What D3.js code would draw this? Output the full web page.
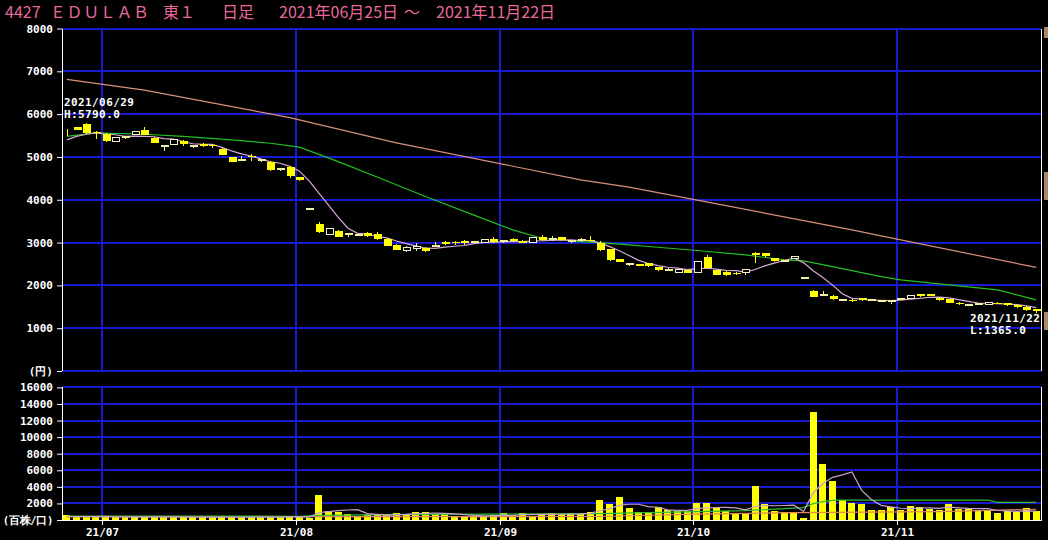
<!DOCTYPE html>
<html><head><meta charset="utf-8">
<script src="https://cdn.jsdelivr.net/npm/d3@7"></script>
<style>html,body{margin:0;padding:0;background:#000;}svg{display:block}</style>
</head><body>
<svg id="c" width="1048" height="540"></svg>
<script>
// ---- data ----
const monthLabels = ["21/07","21/08","21/09","21/10","21/11"];
const monthStartIdx = [4,24,45,65,86];
const priceTicks = [0,1000,2000,3000,4000,5000,6000,7000,8000];
const volTicks = [0,2000,4000,6000,8000,10000,12000,14000,16000];

const opens = [5570,5690,5760,5580,5540,5360,5460,5520,5620,5450,5250,5280,5370,5270,5300,5290,5190,5010,4930,5030,4930,4890,4730,4760,4520,
3780,3440,3200,3280,3200,3180,3220,3200,3090,2950,2810,2870,2880,2930,3020,3020,3040,3000,3000,3080,
3030,3080,3040,2990,3120,3080,3130,3030,3060,3070,2990,2850,2610,2500,2500,2520,2430,2360,2310,2360,
2300,2660,2360,2320,2300,2300,2760,2750,2630,2570,2620,2170,1880,1780,1760,1670,1670,1700,1660,1650,1650,
1670,1700,1800,1800,1710,1680,1600,1550,1570,1560,1600,1580,1550,1500,1440];
const highs = [5650,5700,5790,5610,5560,5470,5500,5610,5700,5460,5250,5410,5400,5290,5320,5300,5200,5010,5030,5080,4960,4900,4750,4780,4530,
3780,3470,3340,3300,3230,3200,3240,3240,3100,2960,2910,3000,2900,3020,3030,3030,3050,3040,3070,3120,
3050,3110,3050,3130,3170,3160,3130,3050,3110,3150,3040,2860,2620,2530,2510,2530,2440,2400,2390,2370,
2560,2700,2370,2330,2310,2390,2770,2760,2640,2600,2680,2170,1900,1870,1770,1690,1690,1710,1680,1670,1650,
1700,1780,1810,1810,1720,1690,1610,1570,1590,1610,1610,1590,1560,1510,1450];
const lows = [5480,5630,5540,5430,5360,5340,5430,5510,5510,5320,5150,5270,5260,5220,5240,5200,5040,4890,4920,4900,4890,4660,4660,4510,4440,
3780,3220,3190,3120,3130,3160,3140,3070,2920,2820,2770,2810,2780,2910,2940,2950,2950,2990,2990,3000,
2990,3020,2980,2980,3040,3040,3040,3000,3010,3010,2800,2580,2540,2460,2450,2440,2340,2330,2300,2290,
2290,2390,2240,2230,2250,2250,2530,2660,2550,2550,2610,2170,1730,1770,1670,1640,1620,1630,1640,1620,1560,
1660,1690,1740,1750,1640,1590,1550,1530,1550,1550,1560,1520,1480,1410,1365];
const closes = [5550,5640,5560,5560,5370,5460,5450,5600,5520,5330,5240,5400,5310,5260,5260,5250,5040,4890,4920,5010,4920,4690,4720,4560,4450,
3780,3250,3330,3130,3190,3180,3160,3080,2930,2830,2880,2900,2800,2920,2970,2980,2990,3010,3060,3010,
3020,3030,2990,3120,3050,3070,3050,3020,3050,3030,2820,2600,2550,2490,2460,2460,2350,2360,2380,2300,
2560,2400,2250,2250,2270,2380,2700,2680,2560,2580,2670,2170,1740,1770,1680,1660,1630,1650,1660,1640,1640,
1680,1770,1760,1760,1650,1600,1570,1550,1570,1600,1570,1530,1490,1420,1400];
const volumes = [560,400,420,380,400,360,340,380,420,380,350,340,360,330,320,340,380,360,340,330,340,380,380,400,360,
250,3020,1050,1000,720,480,600,560,600,880,700,970,930,720,680,480,480,400,480,600,
800,560,800,520,680,800,680,800,720,970,2410,1930,2780,1410,970,1000,1530,1210,1050,1050,
2010,2010,1410,1130,800,720,4100,1890,1100,930,930,290,13070,6760,4710,2410,2090,1930,1210,1210,1530,
1210,1690,1610,1290,1210,1930,1290,1290,1130,1210,800,1050,1010,1410,1100];

// moving averages that start before the visible window: values read at the first days
const ma5PriceHead = [5400,5480,5530,5560];
const ma5VolHead = [420,420,420,420];
// 25-day and 75-day averages: [day index, value]
const ma25Price = [[0,5480],[3,5560],[8,5530],[12,5480],[17,5400],[21,5320],[24,5230],[28,4890],[32,4530],[37,4075],[42,3640],[46,3296],[49,3100],[53,3024],[55,3000],[58,2947],[60,2908],[65,2814],[70,2713],[74,2596],[76,2573],[79,2440],[84,2206],[86,2128],[91,2011],[96,1894],[100,1661]];
const ma75Price = [[0,6810],[8,6560],[23,5920],[34,5330],[53,4465],[58,4295],[81,3298],[84,3158],[100,2420]];
const ma25Vol = [[0,480],[24,450],[26,560],[35,680],[45,720],[55,780],[60,880],[65,1000],[70,1130],[75,1430],[76,1500],[77,1980],[78,2220],[79,2370],[80,2410],[95,2410],[96,2130],[100,2130]];
const ma75Vol = [[0,380],[30,400],[55,420],[65,700],[75,880],[90,1000],[100,1300]];

// ---- drawing ----
const W = 1048, H = 540;
const svg = d3.select("#c");
svg.append("rect").attr("width",W).attr("height",H).attr("fill","#000");
const n = closes.length;
const L = 62, R = 1041;
const x = d3.scaleBand().domain(d3.range(n)).range([L,R]).paddingInner(0.28).paddingOuter(0.14);
const cx = i => x(i) + x.bandwidth()/2;
const yP = d3.scaleLinear().domain([0,8000]).range([371,28.5]);
const yV = d3.scaleLinear().domain([0,16000]).range([520,387.4]);
const GRID = "#1a1ad0";
const mono = "'DejaVu Sans Mono', 'Liberation Mono', monospace";

const g = svg.append("g").attr("shape-rendering","crispEdges");
g.selectAll("line.hp").data(priceTicks).join("line").attr("class","hp")
  .attr("x1",L).attr("x2",R).attr("y1",d=>Math.round(yP(d))).attr("y2",d=>Math.round(yP(d)))
  .attr("stroke",GRID).attr("stroke-width",2);
g.selectAll("line.hv").data(volTicks.filter(d=>d>0)).join("line").attr("class","hv")
  .attr("x1",L).attr("x2",R).attr("y1",d=>Math.round(yV(d))).attr("y2",d=>Math.round(yV(d)))
  .attr("stroke",GRID).attr("stroke-width",2);
monthStartIdx.forEach(i=>{
  const xx = Math.round(x(i));
  g.append("line").attr("x1",xx).attr("x2",xx).attr("y1",yP(8000)).attr("y2",yP(0)).attr("stroke",GRID).attr("stroke-width",2);
  g.append("line").attr("x1",xx).attr("x2",xx).attr("y1",yV(16000)).attr("y2",yV(0)).attr("stroke",GRID).attr("stroke-width",2);
});

function styleAxis(sel){
  sel.select(".domain").remove();
  sel.selectAll(".tick line").attr("stroke","#fff");
  sel.selectAll(".tick text").attr("fill","#fff").attr("font-family",mono).attr("font-size","11px").attr("font-weight","bold");
}
svg.append("g").attr("transform",`translate(${L},0)`)
  .call(d3.axisLeft(yP).tickValues(priceTicks).tickSize(5).tickPadding(4).tickFormat(d=>d===0?"(円)":d))
  .call(styleAxis);
const va = svg.append("g").attr("transform",`translate(${L},0)`)
  .call(d3.axisLeft(yV).tickValues(volTicks).tickSize(5).tickPadding(4).tickFormat(d=>d===0?"(百株/口)":d))
  .call(styleAxis);
va.selectAll(".tick text").filter(d=>d===0).attr("font-size","10.5px").attr("letter-spacing","-0.3px");

const ax = svg.append("g").attr("shape-rendering","crispEdges");
ax.append("line").attr("x1",L+0.5).attr("x2",L+0.5).attr("y1",yP(8000)).attr("y2",yP(0)).attr("stroke","#fff");
ax.append("line").attr("x1",L+0.5).attr("x2",L+0.5).attr("y1",yV(16000)).attr("y2",yV(0)).attr("stroke","#fff");
ax.append("line").attr("x1",R+0.5).attr("x2",R+0.5).attr("y1",yP(8000)).attr("y2",yP(0)).attr("stroke","#fff");
ax.append("line").attr("x1",R+0.5).attr("x2",R+0.5).attr("y1",yV(16000)).attr("y2",yV(0)).attr("stroke","#fff");
ax.append("line").attr("x1",L).attr("x2",R+1).attr("y1",520.5).attr("y2",520.5).attr("stroke","#fff");
monthStartIdx.forEach((i,k)=>{
  const xx = Math.round(x(i))+0.5;
  ax.append("line").attr("x1",xx).attr("x2",xx).attr("y1",520).attr("y2",525).attr("stroke","#fff");
  svg.append("text").attr("x",xx).attr("y",536).attr("text-anchor","middle").attr("fill","#fff")
    .attr("font-family",mono).attr("font-size","11px").attr("font-weight","bold").text(monthLabels[k]);
});
// small scroll markers at the right edge
[[27,38],[172,200],[312,330]].forEach(([a,b])=>{
  svg.append("rect").attr("x",1044).attr("y",a).attr("width",4).attr("height",b-a).attr("fill","#a88868");
});

function smaFrom(vals, head, p){
  return vals.map((v,i)=> i<head.length ? head[i] : d3.mean(vals.slice(i-p+1,i+1)));
}
const ma5P = smaFrom(closes, ma5PriceHead, 5);
const ma5V = smaFrom(volumes, ma5VolHead, 5);
const lineIdx = (ys)=> d3.line().x(d=>cx(d[0])).y(d=>ys(d[1]));

svg.append("g").attr("shape-rendering","crispEdges").selectAll("rect").data(volumes).join("rect")
  .attr("x",(d,i)=>x(i)).attr("width",x.bandwidth())
  .attr("y",d=>yV(d)).attr("height",d=>yV(0)-yV(d)).attr("fill","#ffff00");
svg.append("path").datum(ma75Vol).attr("d",lineIdx(yV)).attr("fill","none").attr("stroke","#e08a5a").attr("stroke-width",1.2);
svg.append("path").datum(ma25Vol).attr("d",lineIdx(yV)).attr("fill","none").attr("stroke","#30c030").attr("stroke-width",1.2);
svg.append("path").datum(ma5V.map((v,i)=>[i,v])).attr("d",lineIdx(yV)).attr("fill","none").attr("stroke","#c8a0d0").attr("stroke-width",1.2);

svg.append("path").datum(ma75Price).attr("d",lineIdx(yP)).attr("fill","none").attr("stroke","#d89078").attr("stroke-width",1.2);
svg.append("path").datum(ma25Price).attr("d",lineIdx(yP)).attr("fill","none").attr("stroke","#22c022").attr("stroke-width",1.2);
svg.append("path").datum(ma5P.map((v,i)=>[i,v])).attr("d",lineIdx(yP)).attr("fill","none").attr("stroke","#d8a8d8").attr("stroke-width",1.2);

const cg = svg.append("g").attr("shape-rendering","crispEdges");
const bw = 7;
d3.range(n).forEach(i=>{
  const o=opens[i], c=closes[i], h=highs[i], l=lows[i];
  const xc = Math.round(cx(i))+0.5;
  const up = c>o, flat = Math.abs(c-o)<15;
  const col = flat ? "#f0f0a0" : (up ? "#f0f0c8" : "#ffff00");
  cg.append("line").attr("x1",xc).attr("x2",xc).attr("y1",yP(h)).attr("y2",yP(l)).attr("stroke",col);
  if(flat){
    const yy = Math.round(yP((o+c)/2));
    cg.append("line").attr("x1",xc-bw/2-0.5).attr("x2",xc+bw/2+0.5).attr("y1",yy).attr("y2",yy).attr("stroke",col).attr("stroke-width",2);
  } else if(up){
    cg.append("rect").attr("x",xc-bw/2).attr("width",bw).attr("y",yP(c)).attr("height",yP(o)-yP(c))
      .attr("fill","#000").attr("stroke",col);
  } else {
    cg.append("rect").attr("x",xc-bw/2-0.5).attr("width",bw+1).attr("y",yP(o)).attr("height",yP(c)-yP(o)).attr("fill",col);
  }
});

const ann = svg.append("g").attr("fill","#fff").attr("font-family",mono).attr("font-size","11px").attr("font-weight","bold").attr("letter-spacing","0.4px");
ann.append("text").attr("x",64).attr("y",106).text("2021/06/29");
ann.append("text").attr("x",64).attr("y",118).text("H:5790.0");
ann.append("text").attr("x",970).attr("y",322).text("2021/11/22");
ann.append("text").attr("x",970).attr("y",334).text("L:1365.0");

const tg = svg.append("g").attr("fill","#e8689a").attr("font-family","'Noto Sans CJK JP', sans-serif").attr("font-size","16px");
tg.append("text").attr("x",5).attr("y",18).text("4427");
tg.append("text").attr("x",50).attr("y",18).attr("textLength",99).text("ＥＤＵＬＡＢ");
tg.append("text").attr("x",163).attr("y",18).text("東１");
tg.append("text").attr("x",222).attr("y",18).text("日足");
tg.append("text").attr("x",279).attr("y",18).text("2021年06月25日");
tg.append("text").attr("x",404).attr("y",18).text("～");
tg.append("text").attr("x",436).attr("y",18).text("2021年11月22日");
</script>
</body></html>
